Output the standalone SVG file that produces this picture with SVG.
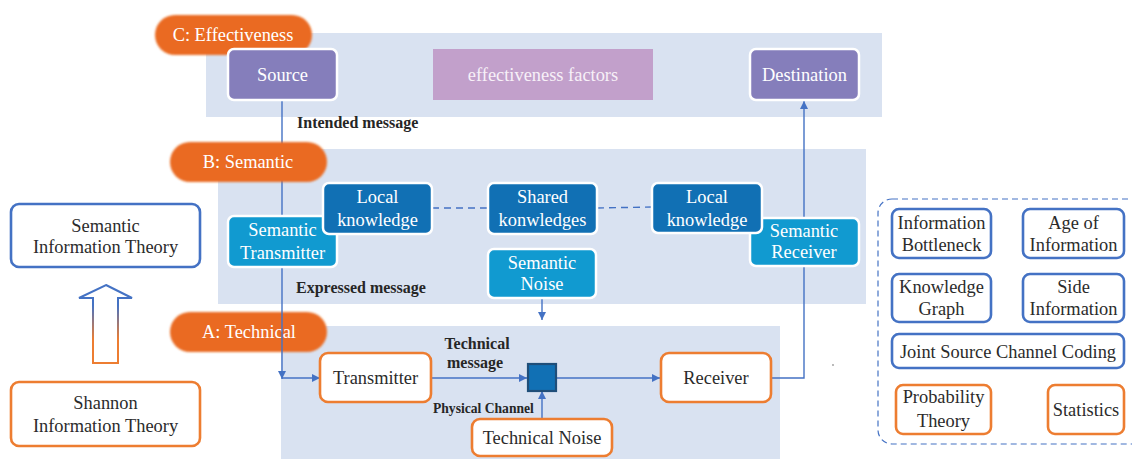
<svg xmlns="http://www.w3.org/2000/svg" width="1132" height="459" viewBox="0 0 1132 459">
<style>
text{font-family:"Liberation Serif","Times New Roman",serif;font-size:18.4px;text-anchor:middle}
.panel{fill:#d9e2f1}
.pill{fill:#ea6b22}
.pilltxt{fill:#ffffff}
.purple{fill:#857ebb;stroke:#ffffff;stroke-width:2.5}
.dark{fill:#1170b4;stroke:#ffffff;stroke-width:2.5}
.light{fill:#119ad0;stroke:#ffffff;stroke-width:2.5}
.wt{fill:#ffffff}
.obox{fill:#ffffff;stroke:#ed7d31;stroke-width:2.6}
.bbox{fill:#ffffff;stroke:#4472c4;stroke-width:2.6}
.dt{fill:#2b2b2b}
.lbl{font-weight:bold;font-size:16px;fill:#262626;text-anchor:start}
.conn{fill:none;stroke:#4472c4;stroke-width:1.4}
</style>
<defs>
<marker id="arr" viewBox="0 0 8 8" refX="8" refY="4" markerWidth="8" markerHeight="8" markerUnits="userSpaceOnUse" orient="auto">
<path d="M0,0 L8,4 L0,8 z" fill="#4472c4"/>
</marker>
<linearGradient id="ag" x1="0" y1="285" x2="0" y2="363" gradientUnits="userSpaceOnUse">
<stop offset="0.26" stop-color="#4472c4"/>
<stop offset="0.7" stop-color="#ed7d31"/>
</linearGradient>
<filter id="soft" x="-10%" y="-20%" width="120%" height="140%">
<feGaussianBlur stdDeviation="1.2"/>
</filter>
</defs>

<g id="panels">
<rect class="panel" x="206" y="33" width="676" height="84"/>
<rect class="panel" x="218" y="149" width="648" height="155"/>
<rect class="panel" x="281" y="326" width="499" height="133"/>
</g>

<g id="label-A">
<rect class="pill" x="170" y="312" width="157" height="40" rx="20" filter="url(#soft)"/>
<text class="pilltxt" x="249" y="338">A: Technical</text>
</g>

<g id="connectors">
<path class="conn" d="M282,101 L282,379" marker-end="url(#arr)"/>
<path class="conn" d="M282,378 L320,378" marker-end="url(#arr)"/>
<path class="conn" d="M431,378 L527,378" marker-end="url(#arr)"/>
<path class="conn" d="M557,378 L660,378" marker-end="url(#arr)"/>
<path class="conn" d="M542,419 L542,391" marker-end="url(#arr)"/>
<path class="conn" d="M542,298 L542,320" marker-end="url(#arr)"/>
<path class="conn" d="M771,378 L804,378 L804,101" marker-end="url(#arr)"/>
<path class="conn" d="M432,208 L488,208" stroke-dasharray="7,5"/>
<path class="conn" d="M597,208 L652,207" stroke-dasharray="7,5"/>
</g>

<g id="label-C">
<rect class="pill" x="155" y="15" width="157" height="40" rx="20" filter="url(#soft)"/>
<text class="pilltxt" x="233" y="41">C: Effectiveness</text>
</g>
<g id="label-B">
<rect class="pill" x="170" y="142" width="157" height="40" rx="20" filter="url(#soft)"/>
<text class="pilltxt" x="248" y="168">B: Semantic</text>
</g>

<g id="source">
<rect class="purple" x="228" y="49" width="109" height="51" rx="6"/>
<text class="wt" x="282.5" y="81">Source</text>
</g>
<g id="effectiveness-factors">
<rect x="433" y="49" width="220" height="51" fill="#c2a0cb"/>
<text x="543" y="81" fill="#f7f0f8">effectiveness factors</text>
</g>
<g id="destination">
<rect class="purple" x="750" y="49" width="109" height="51" rx="6"/>
<text class="wt" x="804.5" y="81">Destination</text>
</g>

<text class="lbl" x="297" y="128">Intended message</text>
<text class="lbl" x="296" y="293">Expressed message</text>
<text class="lbl" x="477" y="349" style="text-anchor:middle">Technical</text>
<text class="lbl" x="475" y="368" style="text-anchor:middle">message</text>
<text class="lbl" x="433" y="413" style="font-size:13.6px">Physical Channel</text>

<g id="semantic-transmitter">
<rect class="light" x="228" y="216" width="109" height="51" rx="6"/>
<text class="wt" x="282.5" y="236">Semantic</text>
<text class="wt" x="282.5" y="259">Transmitter</text>
</g>
<g id="local-knowledge-left">
<rect class="dark" x="323" y="183" width="109" height="51" rx="6"/>
<text class="wt" x="377.5" y="203">Local</text>
<text class="wt" x="377.5" y="226">knowledge</text>
</g>
<g id="shared-knowledges">
<rect class="dark" x="488" y="183" width="109" height="51" rx="6"/>
<text class="wt" x="542.5" y="203">Shared</text>
<text class="wt" x="542.5" y="226">konwledges</text>
</g>
<g id="semantic-receiver">
<rect class="light" x="750" y="218" width="109" height="48" rx="6"/>
<text class="wt" x="804" y="237">Semantic</text>
<text class="wt" x="804" y="258">Receiver</text>
</g>
<g id="local-knowledge-right">
<rect class="dark" x="652" y="183" width="110" height="50" rx="6"/>
<text class="wt" x="707" y="203">Local</text>
<text class="wt" x="707" y="226">knowledge</text>
</g>
<g id="semantic-noise">
<rect class="light" x="488" y="249" width="108" height="49" rx="6"/>
<text class="wt" x="542" y="269">Semantic</text>
<text class="wt" x="542" y="290">Noise</text>
</g>

<g id="transmitter">
<rect class="obox" x="320" y="353" width="111" height="49" rx="8"/>
<text class="dt" x="375.5" y="384">Transmitter</text>
</g>
<g id="physical-channel">
<rect x="528" y="364" width="28" height="27" fill="#1170b4" stroke="#1f4e79" stroke-width="2.2"/>
</g>
<g id="receiver">
<rect class="obox" x="661" y="353" width="110" height="49" rx="8"/>
<text class="dt" x="716" y="384">Receiver</text>
</g>
<g id="technical-noise">
<rect class="obox" x="472" y="419" width="140" height="37" rx="8"/>
<text class="dt" x="542" y="444">Technical Noise</text>
</g>

<circle cx="833" cy="365" r="0.9" fill="#9a9a9a"/>

<g id="semantic-information-theory">
<rect class="bbox" x="11" y="204" width="189" height="63" rx="8"/>
<text class="dt" x="105.5" y="232">Semantic</text>
<text class="dt" x="105.5" y="253">Information Theory</text>
</g>
<g id="up-arrow">
<path d="M106,285 L132,298 L118,298 L118,363 L93,363 L93,298 L79,298 Z" fill="none" stroke="url(#ag)" stroke-width="2"/>
</g>
<g id="shannon-information-theory">
<rect class="obox" x="11" y="382" width="189" height="64" rx="8"/>
<text class="dt" x="105.5" y="409">Shannon</text>
<text class="dt" x="105.5" y="432">Information Theory</text>
</g>

<g id="tools-panel">
<rect x="878" y="199" width="270" height="245" rx="14" fill="none" stroke="#4472c4" stroke-width="1.2" stroke-dasharray="6,4"/>
</g>
<g id="information-bottleneck">
<rect class="bbox" x="892" y="209" width="99" height="49" rx="7"/>
<text class="dt" x="941.5" y="229">Information</text>
<text class="dt" x="941.5" y="251">Bottleneck</text>
</g>
<g id="age-of-information">
<rect class="bbox" x="1023" y="209" width="101" height="49" rx="7"/>
<text class="dt" x="1073.5" y="229">Age of</text>
<text class="dt" x="1073.5" y="251">Information</text>
</g>
<g id="knowledge-graph">
<rect class="bbox" x="892" y="274" width="99" height="48" rx="7"/>
<text class="dt" x="941.5" y="293">Knowledge</text>
<text class="dt" x="941.5" y="315">Graph</text>
</g>
<g id="side-information">
<rect class="bbox" x="1023" y="274" width="101" height="48" rx="7"/>
<text class="dt" x="1073.5" y="293">Side</text>
<text class="dt" x="1073.5" y="315">Information</text>
</g>
<g id="jscc">
<rect class="bbox" x="892" y="334" width="232" height="34" rx="7"/>
<text class="dt" x="1008" y="358">Joint Source Channel Coding</text>
</g>
<g id="probability-theory">
<rect class="obox" x="896" y="385" width="95" height="49" rx="7"/>
<text class="dt" x="943.5" y="403">Probability</text>
<text class="dt" x="943.5" y="427">Theory</text>
</g>
<g id="statistics">
<rect class="obox" x="1048" y="385" width="76" height="49" rx="7"/>
<text class="dt" x="1086" y="416">Statistics</text>
</g>
</svg>
